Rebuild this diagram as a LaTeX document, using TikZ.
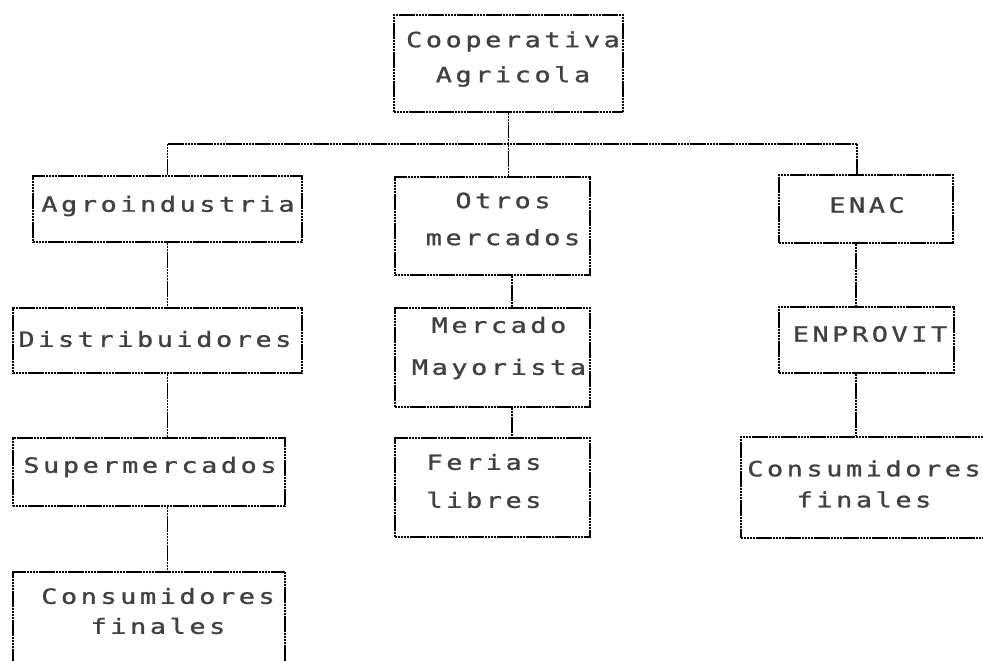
\documentclass[tikz,border=0pt]{standalone}
\usepackage{fontspec}
\newfontfamily\dotfont[LetterSpace=17, FakeStretch=1.28, FakeBold=1.2]{DejaVu Sans Mono}
\begin{document}
\begin{tikzpicture}[x=1pt,y=-1pt,
  box/.style={draw=black, line width=1.6pt, dash pattern=on 2.4pt off 0.5pt, rectangle, inner sep=0pt},
  conn/.style={draw=black, line width=1.6pt, dash pattern=on 2.4pt off 0.5pt},
  lbl/.style={font=\dotfont\fontsize{21}{#1}\selectfont, text=black!75, align=center, inner sep=0pt},
  lbl/.default=34]
\useasboundingbox (0,0) rectangle (983,661);
\clip (0,0) rectangle (983,661);
% boxes
\node[box, minimum width=229pt, minimum height=97pt] (coop) at (508.5,63.5) {};
\node[box, minimum width=269pt, minimum height=66pt] (agro) at (167.5,209) {};
\node[box, minimum width=289pt, minimum height=65pt] (dist) at (157.5,340.5) {};
\node[box, minimum width=272pt, minimum height=68pt] (super) at (149,472) {};
\node[box, minimum width=272pt, minimum height=148pt] (consL) at (149,646) {};
\node[box, minimum width=195pt, minimum height=98pt] (otros) at (492.5,226) {};
\node[box, minimum width=195pt, minimum height=99pt] (mayor) at (492.5,357.5) {};
\node[box, minimum width=195pt, minimum height=99pt] (ferias) at (492.5,487.5) {};
\node[box, minimum width=174pt, minimum height=68pt] (enac) at (866,209) {};
\node[box, minimum width=175pt, minimum height=66pt] (enprov) at (866.5,340) {};
\node[box, minimum width=259pt, minimum height=101pt] (consR) at (870.5,487.5) {};
% texts
\node[lbl=35] (tcoop) at (513,59) {Cooperativa\\Agricola};
\node[lbl] (tagro) at (168,206) {Agroindustria};
\node[lbl] (tdist) at (155,339) {Distribuidores};
\node[lbl] (tsuper) at (150,467) {Supermercados};
\node[lbl=30] (tconsL) at (158,611) {Consumidores\\finales};
\node[lbl=37] (totros) at (503,219) {Otros\\mercados};
\node[lbl=42] (tmayor) at (499,348) {Mercado\\Mayorista};
\node[lbl=38] (tferias) at (484,481) {Ferias\\libres};
\node[lbl] (tenac) at (867,205) {ENAC};
\node[lbl] (tenprov) at (870,334) {ENPROVIT};
\node[lbl=31] (tconsR) at (864,484) {Consumidores\\finales};
% connectors
\coordinate (bus) at (0,144);
\coordinate (bR) at (857,144);
\coordinate (mc) at (512,0);
\coordinate (rc) at (856,0);
\draw[conn] (coop.south) -- (coop.south |- otros.north);
\draw[conn] (agro.north |- bus) -- (bR);
\draw[conn] (agro.north |- bus) -- (agro.north);
\draw[conn] (bR) -- (bR |- enac.north);
\draw[conn] (agro.south) -- (agro.south |- dist.north);
\draw[conn] (agro.south |- dist.south) -- (agro.south |- super.north);
\draw[conn] (agro.south |- super.south) -- (agro.south |- consL.north);
\draw[conn] (mc |- otros.south) -- (mc |- mayor.north);
\draw[conn] (mc |- mayor.south) -- (mc |- ferias.north);
\draw[conn] (rc |- enac.south) -- (rc |- enprov.north);
\draw[conn] (rc |- enprov.south) -- (rc |- consR.north);
\end{tikzpicture}
\end{document}
